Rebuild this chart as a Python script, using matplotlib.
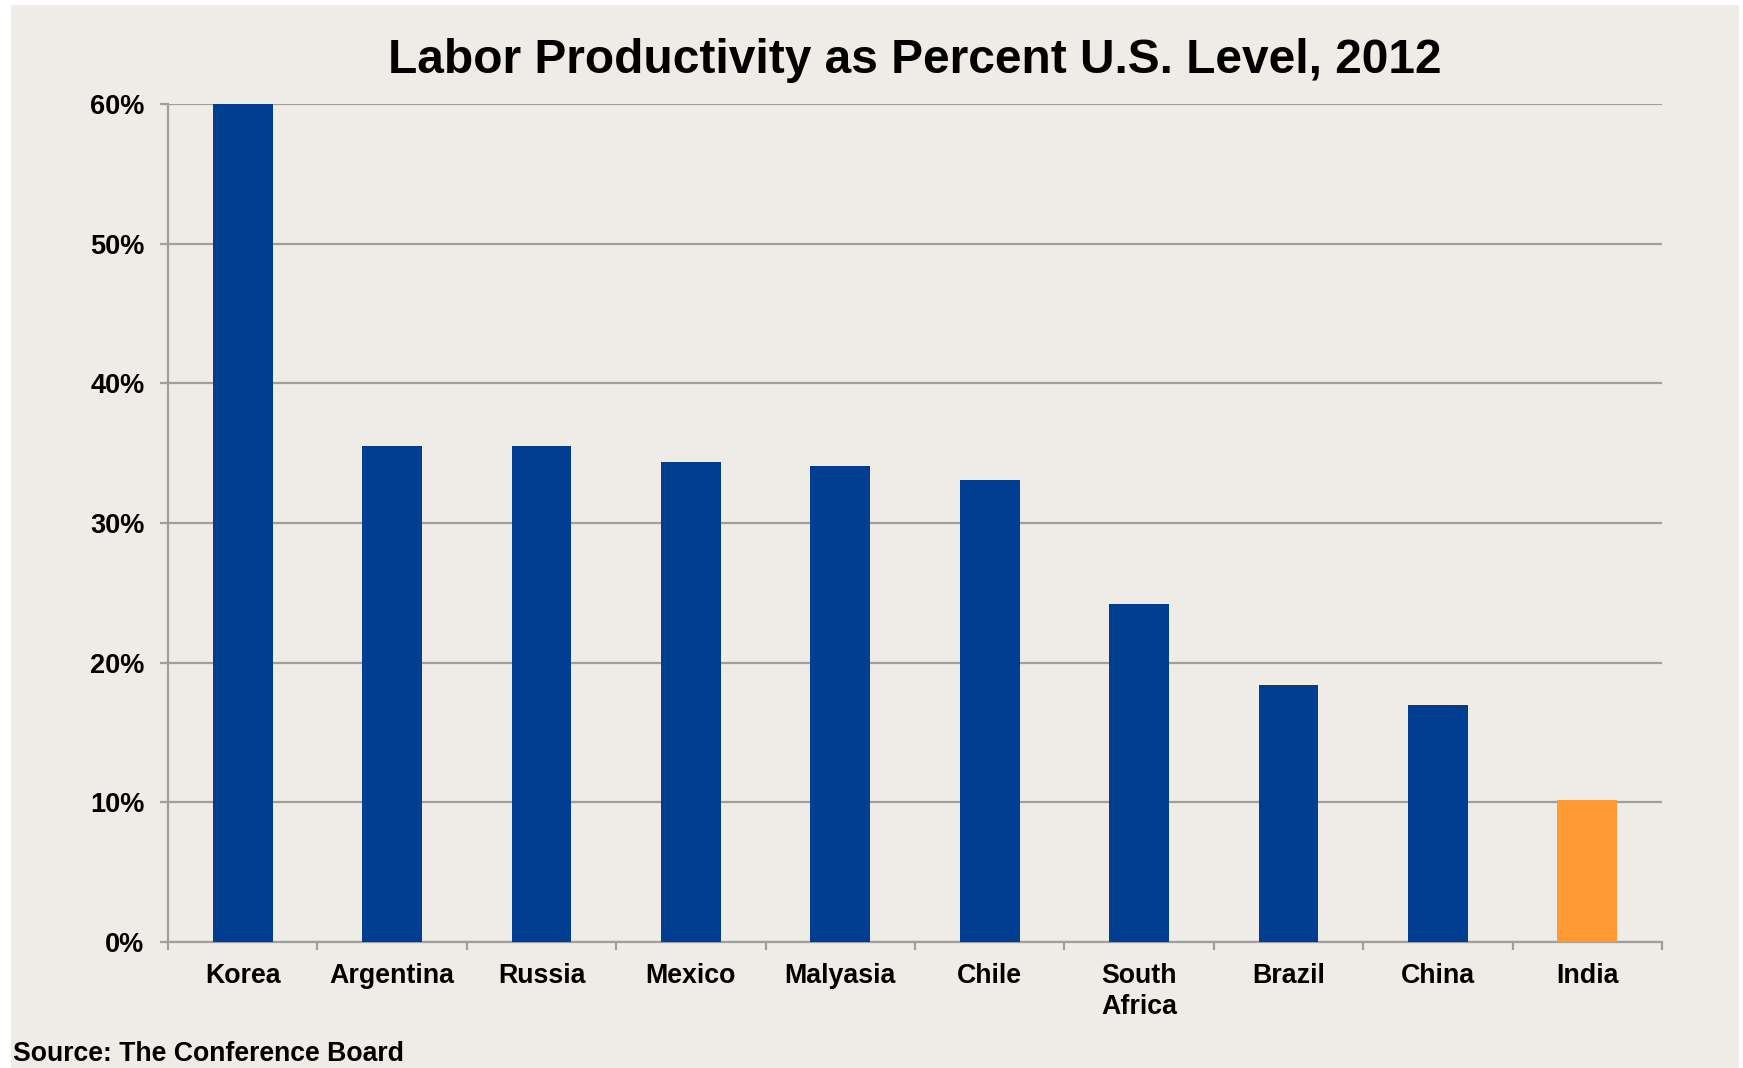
import matplotlib
matplotlib.use("Agg")
import matplotlib.pyplot as plt
from matplotlib.patches import Rectangle
from matplotlib.ticker import FuncFormatter, FixedLocator
import numpy as np

countries = ["Korea", "Argentina", "Russia", "Mexico", "Malyasia", "Chile",
             "South\nAfrica", "Brazil", "China", "India"]
values = [60.0, 35.5, 35.5, 34.4, 34.1, 33.1, 24.2, 18.4, 17.0, 10.2]
colors = ["#003E92"] * 9 + ["#FF9A35"]
yticks = [0, 10, 20, 30, 40, 50, 60]

plt.rcParams['font.family'] = ['Liberation Sans', 'DejaVu Sans']
plt.rcParams['font.weight'] = 'bold'

W, H = 1743, 1068
fig = plt.figure(figsize=(W / 100, H / 100), dpi=100, facecolor="white")
bg = "#EFECE7"
fig.patches.append(Rectangle((11 / W, 0), (1739 - 11) / W, (H - 5) / H,
                             transform=fig.transFigure, facecolor=bg,
                             edgecolor="none", zorder=-10))

ax = fig.add_axes([168 / W, 126 / H, (1662 - 168) / W, (942 - 104) / H])
ax.set_facecolor(bg)
ax.patch.set_alpha(0)

x = np.arange(len(countries))
ax.bar(x, values, width=0.4, color=colors, zorder=3)

ax.set_xlim(-0.5, len(countries) - 0.5)
ax.set_ylim(0, 60)
ax.set_yticks(yticks)
ax.yaxis.set_major_formatter(FuncFormatter(lambda v, p: f"{int(v)}%"))
ax.grid(axis="y", color="#9F9F9B", linewidth=1.6, zorder=1)

gray = "#9F9F9B"
for s in ["top", "right"]:
    ax.spines[s].set_visible(False)
for s in ["left", "bottom"]:
    ax.spines[s].set_color(gray)
    ax.spines[s].set_linewidth(1.6)

ax.set_xticks(x)
ax.set_xticklabels(countries, fontsize=19.3, fontweight="bold", linespacing=1.28)
ax.tick_params(axis="x", which="major", length=0, pad=15)
ax.xaxis.set_minor_locator(FixedLocator(np.arange(-0.5, len(countries), 1.0)))
ax.tick_params(axis="x", which="minor", length=6, width=1.6, color=gray)
ax.tick_params(axis="y", length=6, width=1.6, color=gray, labelsize=19.5, pad=11)
for lab in ax.get_yticklabels():
    lab.set_fontweight("bold")

ax.set_title("Labor Productivity as Percent U.S. Level, 2012", fontsize=34.5,
             fontweight="bold", pad=22)

fig.text(13 / W, 1 / H, "Source: The Conference Board", fontsize=19.2,
         fontweight="bold", ha="left", va="bottom")

fig.savefig("out.png", dpi=100, facecolor="white")
